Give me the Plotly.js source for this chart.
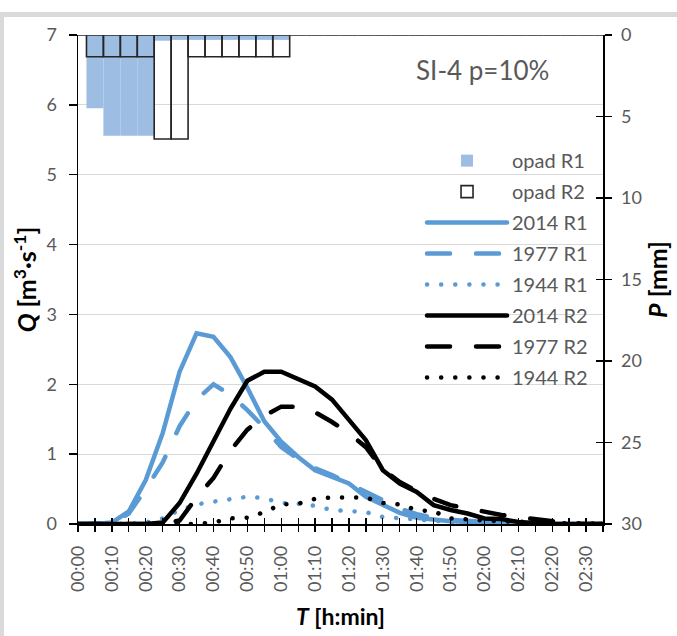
<!DOCTYPE html>
<html>
<head>
<meta charset="utf-8">
<script src="https://cdn.plot.ly/plotly-3.0.1.min.js"></script>
<style>
  html, body { margin: 0; padding: 0; background: #fff; }
  #wrap { position: relative; width: 677px; height: 636px; }
  #chart { width: 677px; height: 636px; }
  #frame { position: absolute; left: 0; top: 12px; width: 677px; height: 624px;
           border-top: 5px solid #dadada; border-left: 4px solid #dadada; box-sizing: border-box; pointer-events: none; }
  .js-line { stroke-linecap: round; }
</style>
</head>
<body>
<div id="wrap">
  <div id="chart"></div>
  <div id="frame"></div>
</div>
<script>
// time categories (5-min steps)
const times = ["00:00","00:05","00:10","00:15","00:20","00:25","00:30","00:35","00:40","00:45",
               "00:50","00:55","01:00","01:05","01:10","01:15","01:20","01:25","01:30","01:35",
               "01:40","01:45","01:50","01:55","02:00","02:05","02:10","02:15","02:20","02:25",
               "02:30","02:35"];
// tick labels shown every 10 minutes
const tickLabels = ["00:00","","00:10","","00:20","","00:30","","00:40","","00:50","","01:00","","01:10","",
                    "01:20","","01:30","","01:40","","01:50","","02:00","","02:10","","02:20","","02:30",""];

// discharge Q [m3/s]
const q2014R1 = [0,0,0.02,0.18,0.63,1.30,2.18,2.73,2.68,2.39,1.95,1.47,1.18,0.96,0.77,0.68,0.58,0.39,0.27,0.16,0.09,0.06,0.04,0.03,0.03,0.02,0.01,0,0,0,0,0];
const q1977R1 = [0,0,0.01,0.15,0.50,0.88,1.40,1.78,2.00,1.85,1.63,1.38,1.10,0.93,0.80,0.70,0.58,0.46,0.33,0.22,0.14,0.09,0.06,0.04,0.03,0.02,0.01,0,0,0,0,0];
const q1944R1 = [0,0,0,0,0.02,0.08,0.20,0.28,0.32,0.36,0.39,0.37,0.30,0.29,0.26,0.20,0.19,0.17,0.10,0.08,0.06,0.04,0.03,0.02,0.02,0.01,0.01,0,0,0,0,0];
const q2014R2 = [0,0,0,0,0,0.02,0.30,0.72,1.20,1.65,2.05,2.18,2.18,2.08,1.97,1.78,1.50,1.20,0.77,0.58,0.46,0.27,0.20,0.15,0.08,0.07,0.03,0.01,0,0,0,0];
const q1977R2 = [0,0,0,0,0,0,0.05,0.38,0.66,1.05,1.35,1.55,1.68,1.68,1.60,1.46,1.30,1.10,0.78,0.60,0.47,0.36,0.27,0.22,0.18,0.13,0.10,0.07,0.03,0.01,0,0];
const q1944R2 = [0,0,0,0,0,0,0,0,0.02,0.08,0.09,0.17,0.28,0.29,0.36,0.38,0.38,0.38,0.30,0.28,0.20,0.18,0.08,0.06,0.05,0.04,0.03,0.02,0.01,0.01,0.01,0];

// rainfall P [mm]
const pR1 = [0,4.5,6.18,6.18,6.18,0.35,0.3,0.3,0.3,0.3,0.3,0.3,0.3,0,0,0,0,0,0,0,0,0,0,0,0,0,0,0,0,0,0,0];
const pR2 = [0,1.33,1.33,1.33,1.33,6.38,6.38,1.33,1.33,1.33,1.33,1.33,1.33,0,0,0,0,0,0,0,0,0,0,0,0,0,0,0,0,0,0,0];

const names = ["opad R1","opad R2","2014 R1","1977 R1","1944 R1","2014 R2","1977 R2","1944 R2"];

const BLUE = "#5B9BD5", BLACK = "#000000", BAR = "#9DBDE3";
const DASH = "23px,26px", DOT = "0.1px,14px";
const FONT = "Lato, 'Open Sans', sans-serif";
const GREY = "#595959";

function line(y, name, color, dash, g) {
  return { type: "scatter", mode: "lines", x: times, y: y, name: name, xaxis: "x", yaxis: "y",
           legendgroup: g, line: { color: color, width: 4.5, dash: dash }, hoverinfo: "skip" };
}

const data = [
  { type: "bar", x: times, y: pR1, name: names[0], xaxis: "x2", yaxis: "y2", width: 1, legendgroup: "a",
    marker: { color: BAR, line: { width: 0 } }, hoverinfo: "skip" },
  { type: "bar", x: times, y: pR2, name: names[1], xaxis: "x2", yaxis: "y3", width: 1, legendgroup: "b",
    marker: { color: "rgba(255,255,255,0)", line: { color: "#262626", width: 1.6 } }, hoverinfo: "skip" },
  line(q2014R1, names[2], BLUE, "solid", "c"),
  line(q1977R1, names[3], BLUE, DASH, "d"),
  line(q1944R1, names[4], BLUE, DOT, "e"),
  line(q2014R2, names[5], BLACK, "solid", "f"),
  line(q1977R2, names[6], BLACK, DASH, "g"),
  line(q1944R2, names[7], BLACK, DOT, "h")
];

const tickFont = { family: FONT, size: 18, color: GREY };
const yTitleFont = { family: FONT, size: 25, color: "#000" };
const xTitleFont = { family: FONT, size: 23, color: "#000" };
const xr = [0, times.length - 1];

const layout = {
  width: 677, height: 636,
  margin: { l: 78, r: 74, t: 35, b: 112 },
  paper_bgcolor: "#fff", plot_bgcolor: "#fff",
  font: { family: FONT, color: GREY },
  barmode: "overlay",
  showlegend: true,
  legend: { x: 0.981, xanchor: "right", y: 0.783, yanchor: "top", bgcolor: "rgba(0,0,0,0)",
            font: { family: FONT, size: 20, color: GREY }, traceorder: "grouped", tracegroupgap: 2,
            itemwidth: 80 },
  xaxis: {
    type: "category", categoryarray: times, range: xr,
    tickmode: "array", tickvals: times, ticktext: tickLabels, tickangle: -90,
    ticks: "outside", ticklen: 6, tickcolor: "#000", tickwidth: 1.3,
    showline: true, linecolor: "#000", linewidth: 1.5, showgrid: false, zeroline: false,
    tickfont: tickFont, ticklabelstandoff: 7,
    title: { text: "<b><i>T</i> [h:min]</b>", font: xTitleFont, standoff: 18 }
  },
  xaxis2: {
    type: "category", categoryarray: times, range: xr, overlaying: "x", anchor: "y2", side: "bottom",
    tickmode: "array", tickvals: times, ticktext: times.map(() => ""),
    ticks: "inside", ticklen: 6, tickcolor: "#000", tickwidth: 1.3,
    showline: false, showgrid: false, zeroline: false, showticklabels: false
  },
  yaxis: {
    range: [0, 7], dtick: 1, tick0: 0,
    ticks: "outside", ticklen: 8, tickcolor: "#000", tickwidth: 1.3,
    showline: true, linecolor: "#000", linewidth: 1.5,
    showgrid: true, gridcolor: "#d9d9d9", gridwidth: 1, zeroline: false,
    tickfont: tickFont, ticklabelstandoff: 8,
    title: { text: "<b><i>Q</i> [m<sup>3</sup>·s<sup>-1</sup>]</b>", font: yTitleFont, standoff: 2 }
  },
  yaxis2: {
    range: [30, 0], dtick: 5, tick0: 0, side: "right", anchor: "x2", overlaying: "y",
    ticks: "outside", ticklen: 7, tickcolor: "#000", tickwidth: 1.3,
    showline: true, linecolor: "#000", linewidth: 1.5, showgrid: false, zeroline: false,
    tickfont: tickFont, ticklabelstandoff: 6,
    title: { text: "<b><i>P</i> [mm]</b>", font: yTitleFont, standoff: 4 }
  },
  yaxis3: {
    range: [30, 0], dtick: 5, tick0: 0, side: "right", anchor: "x2", overlaying: "y",
    ticks: "inside", ticklen: 7, tickcolor: "#000", tickwidth: 1.3,
    showline: false, showgrid: false, zeroline: false, showticklabels: false
  },
  annotations: [
    { text: "SI-4 p=10%", xref: "paper", yref: "paper", x: 0.771, y: 0.928, showarrow: false,
      xanchor: "center", yanchor: "middle", font: { family: FONT, size: 26, color: GREY } }
  ]
};

Plotly.newPlot("chart", data, layout, { staticPlot: true, displayModeBar: false });
</script>
</body>
</html>
